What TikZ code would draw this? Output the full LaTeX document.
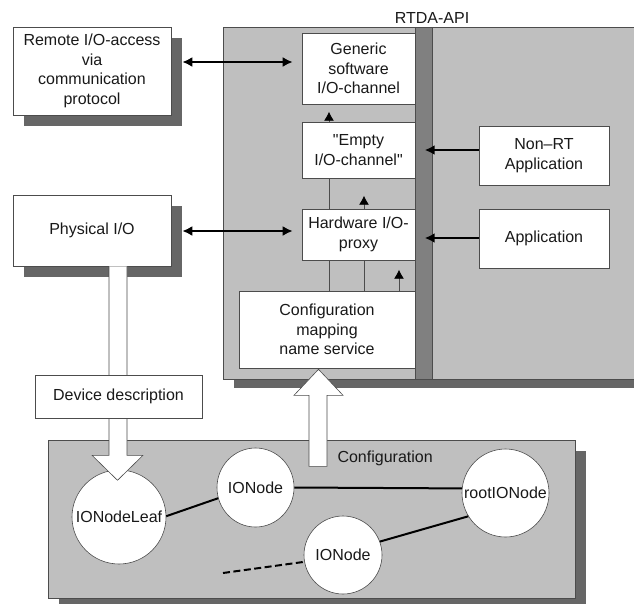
\documentclass[tikz,border=0pt]{standalone}
\usepackage{fontspec}
\setmainfont{Liberation Sans}[Ligatures=TeXOff]
\usetikzlibrary{shapes.geometric,arrows.meta,calc,shadows}

\definecolor{panelgray}{gray}{0.75}
\definecolor{shadowgray}{gray}{0.4}
\definecolor{bargray}{gray}{0.5}
\definecolor{edgegray}{gray}{0.3}
\definecolor{inkcol}{gray}{0.1}

\begin{document}
\begin{tikzpicture}[x=1pt,y=-1pt,
  every node/.style={font=\fontsize{16}{19.5}\selectfont, text=inkcol},
  box/.style={draw=edgegray, fill=white, line width=0.6pt, align=center, inner sep=0pt},
  shadowed/.style={drop shadow={shadow xshift=11pt, shadow yshift=-11pt, fill=shadowgray, opacity=1}},
  panel/.style={draw=edgegray, fill=panelgray, line width=0.6pt},
  ionode/.style={ellipse, draw=edgegray, fill=white, line width=0.6pt, inner sep=0pt},
  bigarrow/.style={line width=2.1pt, draw=black},
  thinline/.style={line width=0.9pt, draw=edgegray},
  smallarrow/.style={line width=0.9pt, draw=edgegray, arrows={-Latex[length=9pt,width=10pt,color=black]}},
  hollow/.style={draw=edgegray, fill=white, line width=0.6pt, line join=miter},
  link/.style={line width=2pt, draw=black},
  >={Latex[length=10pt,width=10pt]}
]
\clip (0,0) rectangle (634,603);

% RTDA panel with its shadow and the API bar
\fill[shadowgray] (234,38) rectangle (660,388);
\draw[panel] (223,27) rectangle (660,379);
\node[draw=edgegray, fill=bargray, line width=0.6pt, minimum width=17pt, minimum height=352pt, inner sep=0pt] (bar) at (423.5,203) {};
\node (api) at (432,18) {RTDA-API};

% configuration panel
\fill[shadowgray] (59,451) rectangle (586,610);
\draw[panel] (48,440) rectangle (575,598);
\node[anchor=west] (cfglabel) at (334,458) {Configuration};

% outer boxes
\node[box, shadowed, minimum width=158pt, minimum height=88pt] (remote) at (92,71)
  {Remote I/O-access\\via\\communication\\protocol};
\node[box, shadowed, minimum width=158pt, minimum height=71pt] (phys) at (92,230.5) {Physical I/O};

% boxes inside the RTDA panel
\node[box, minimum width=113pt, minimum height=71pt] (generic) at (358.5,68.5)
  {Generic\\software\\I/O-channel};
\node[box, minimum width=113pt, minimum height=56pt] (empty) at (358.5,150)
  {"Empty\\I/O-channel"};
\node[box, minimum width=113pt, minimum height=51pt] (hw) at (358.5,234.5)
  {Hardware I/O-\\proxy};
\node[box, minimum width=176pt, minimum height=77pt] (cms) at (327,329.5)
  {Configuration\\mapping\\name service};

% applications
\node[box, minimum width=130pt, minimum height=59pt] (nonrt) at (544,155.5) {Non–RT\\Application};
\node[box, minimum width=130pt, minimum height=59pt] (app) at (544,238.5) {Application};

% links between the channel boxes
\draw[smallarrow] ($(empty.north)+(-29.5,0)$) -- ($(empty.north)+(-29.5,-10)$);
\draw[thinline] ($(empty.south)+(-29.5,0)$) -- ($(hw.north)+(-29.5,0)$);
\draw[smallarrow] ($(hw.north)+(5.5,0)$) -- ($(hw.north)+(5.5,-13)$);
\draw[thinline] ($(hw.south)+(-29.5,0)$) -- ($(hw.south)+(-29.5,31)$);
\draw[thinline] ($(hw.south)+(5.5,0)$) -- ($(hw.south)+(5.5,31)$);
\draw[smallarrow] ($(cms.north)+(72,0)$) -- ($(cms.north)+(72,-21)$);

% access arrows
\draw[bigarrow, <->] ($(remote.east)+(11,-9)$) -- ($(generic.west)+(-9,-6.5)$);
\draw[bigarrow, <->] ($(phys.east)+(11,0.5)$) -- ($(hw.west)+(-9,-3.5)$);
\draw[bigarrow, ->] ($(nonrt.west)+(0,-5.5)$) -- ($(nonrt.west)+(-54,-5.5)$);
\draw[bigarrow, ->] ($(app.west)+(0,-0.5)$) -- ($(app.west)+(-54,-0.5)$);

% configuration tree (names set as centred labels so the circles keep their size)
\node[ionode, minimum width=94pt, minimum height=94pt, label=center:IONodeLeaf] (leaf) at (119,517) {};
\node[ionode, minimum width=77pt, minimum height=79pt, label=center:IONode] (ion1) at (255.5,487.5) {};
\node[ionode, minimum width=87pt, minimum height=88pt, label=center:rootIONode] (root) at (505.5,493) {};
\node[ionode, minimum width=78pt, minimum height=78pt, label=center:IONode] (ion2) at (343,555) {};
\coordinate (more) at (223,573);

\draw[link] (leaf.1) -- (ion1.196);
\draw[link] (ion1.east) -- (root.174);
\draw[link] (root.212) -- (ion2.20);
\draw[link, dashed, dash pattern=on 7pt off 3.5pt] (more) -- (ion2.190);

% hollow arrows: configuration upwards, device description downwards
\draw[hollow] ($(cms.south)+(-18,98)$) -- ++(0,-71) -- ++(-15,0) -- ++(24.5,-26)
  -- ++(24.5,26) -- ++(-16,0) -- ++(0,71) -- cycle;
\draw[hollow] ($(phys.south)+(17,0)$) -- ++(0,189) -- ++(-17,0) -- ++(25.5,25)
  -- ++(25.5,-25) -- ++(-16,0) -- ++(0,-189);

\node[box, minimum width=167pt, minimum height=43pt] (devdesc) at (118.5,396.5) {Device description};
\end{tikzpicture}
\end{document}
